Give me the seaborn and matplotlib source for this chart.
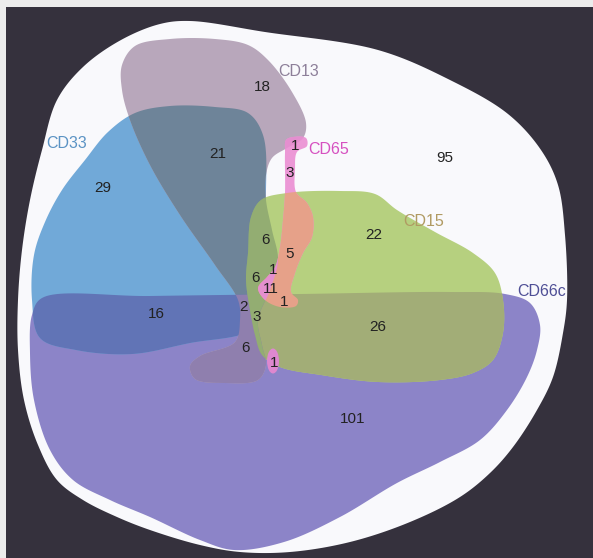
import numpy as np
import matplotlib
matplotlib.use("Agg")
import matplotlib.pyplot as plt
from matplotlib.patches import PathPatch, Rectangle, Ellipse
from matplotlib.path import Path
import seaborn as sns

# ---- data -------------------------------------------------------------
set_names = ["CD13", "CD33", "CD65", "CD15", "CD66c"]
region_counts = [18, 21, 29, 1, 3, 95, 6, 22, 5, 1, 6, 11, 1, 2, 3, 16, 26, 6, 1, 101]
region_members = ["CD13", "CD13&CD33", "CD33", "CD65&CD13", "CD65", "none",
                  "CD13&CD15", "CD15", "CD65&CD15", "CD13&CD65&CD15",
                  "CD13&CD33&CD15", "CD13&CD65&CD15", "CD65&CD15&CD66c",
                  "CD13&CD33&CD66c", "CD15&CD13&CD66c", "CD33&CD66c",
                  "CD15&CD66c", "CD13&CD66c", "CD65&CD66c", "CD66c"]

# ---- layout (pixel space, y downwards) ---------------------------------
label_xy = [(262, 87), (218, 154), (103, 188), (295, 146), (290, 173), (445, 158),
            (265, 240), (374, 235), (290, 254), (273, 270), (255, 278), (271, 289),
            (284, 302), (244, 307), (257, 317), (156, 314), (378, 327), (245, 348),
            (274, 363), (353, 419)]
set_label_xy = [(299, 72), (67, 144), (329, 149), (424, 221), (542, 291)]
set_label_colors = ["#8d7f99", "#5b93c4", "#d651c0", "#b09a62", "#4f4f96"]

outline = {
    "universe": [(190, 21), (265, 32), (378, 50), (450, 80), (508, 114), (541, 150),
                 (558, 185), (565, 235), (567, 300), (563, 333), (553, 377),
                 (537, 410), (513, 447), (490, 473), (460, 497), (410, 522),
                 (350, 542), (290, 552), (240, 552), (200, 545), (150, 530),
                 (117, 517), (83, 500), (57, 480), (38, 445), (24, 400), (18, 350),
                 (18, 300), (22, 250), (30, 200), (42, 150), (57, 100), (83, 67),
                 (121, 40), (160, 24)],
    "CD66c": [(42, 298), (150, 296), (300, 294), (450, 292), (505, 294), (530, 303),
              (540, 325), (537, 350), (527, 377), (507, 410), (480, 440), (440, 462),
              (397, 483), (340, 517), (284, 542), (234, 550), (200, 540), (150, 517),
              (110, 500), (73, 480), (50, 450), (34, 400), (30, 353), (32, 315)],
    "CD33": [(135, 113), (170, 106), (215, 107), (248, 113), (263, 135), (266, 190),
             (262, 240), (256, 290), (250, 322), (246, 332), (190, 343), (132, 354),
             (76, 350), (40, 338), (32, 300), (34, 255), (45, 222), (62, 190),
             (85, 160), (108, 132)],
    "CD13": [(122, 65), (135, 46), (170, 39), (215, 39), (248, 45), (268, 60),
             (292, 92), (306, 123), (303, 138), (287, 148), (272, 158), (266, 175),
             (266, 200), (272, 230), (278, 260), (270, 290), (258, 320), (262, 345),
             (266, 365), (258, 380), (225, 383), (195, 379), (190, 366), (200, 356),
             (235, 342), (240, 320), (238, 300), (215, 265), (180, 215), (150, 165),
             (130, 120), (122, 90)],
    "CD15": [(261, 200), (287, 193), (340, 191), (375, 194), (397, 210), (435, 232),
             (473, 253), (495, 273), (503, 300), (503, 333), (493, 360), (473, 373),
             (440, 380), (378, 382), (321, 375), (280, 367), (262, 355), (255, 335),
             (250, 310), (246, 280), (248, 253), (251, 217)],
    "CD65": [(286, 140), (293, 137), (306, 138), (307, 146), (297, 152), (295, 170),
             (296, 192), (307, 203), (313, 217), (312, 237), (303, 253), (295, 273),
             (291, 292), (298, 300), (296, 306), (280, 307), (265, 300), (258, 288),
             (267, 277), (275, 267), (280, 247), (283, 220), (285, 193), (285, 153)],
}
solo_color = {"universe": "#f9f9fc", "CD66c": "#8c84c8", "CD33": "#71a9d8",
              "CD13": "#b8a7bb", "CD15": "#b6d07f", "CD65": "#ec98d6"}
pair_color = [("CD13", "CD33", "#6e8499"), ("CD33", "CD66c", "#6174b6"),
              ("CD15", "CD66c", "#a2ad77"), ("CD13", "CD66c", "#8f7fae"),
              ("CD33", "CD15", "#7f9f8a"), ("CD13", "CD15", "#93ad72"),
              ("CD65", "CD15", "#e6a189"), ("CD65", "CD13", "#e48fcf")]


def smooth_closed(pts, n=24, alpha=0.5):
    """Centripetal Catmull-Rom spline through a closed ring of points."""
    P = np.asarray(pts, float)
    m = len(P)
    out = []
    for i in range(m):
        p0, p1, p2, p3 = P[(i - 1) % m], P[i], P[(i + 1) % m], P[(i + 2) % m]
        t0 = 0.0
        t1 = t0 + np.linalg.norm(p1 - p0) ** alpha
        t2 = t1 + np.linalg.norm(p2 - p1) ** alpha
        t3 = t2 + np.linalg.norm(p3 - p2) ** alpha
        t = np.linspace(t1, t2, n, endpoint=False)[:, None]
        a1 = (t1 - t) / (t1 - t0) * p0 + (t - t0) / (t1 - t0) * p1
        a2 = (t2 - t) / (t2 - t1) * p1 + (t - t1) / (t2 - t1) * p2
        a3 = (t3 - t) / (t3 - t2) * p2 + (t - t2) / (t3 - t2) * p3
        b1 = (t2 - t) / (t2 - t0) * a1 + (t - t0) / (t2 - t0) * a2
        b2 = (t3 - t) / (t3 - t1) * a2 + (t - t1) / (t3 - t1) * a3
        out.append((t2 - t) / (t2 - t1) * b1 + (t - t1) / (t2 - t1) * b2)
    return np.vstack(out)


def shape_path(name):
    verts = smooth_closed(outline[name])
    verts = np.vstack([verts, verts[:1]])
    codes = [Path.MOVETO] + [Path.LINETO] * (len(verts) - 2) + [Path.CLOSEPOLY]
    return Path(verts, codes)


sns.set_theme(style="white")
plt.rcParams["font.family"] = ["Liberation Sans", "DejaVu Sans"]

W, H = 593, 558
fig = plt.figure(figsize=(W / 100, H / 100), dpi=100, facecolor="#ececec")
ax = fig.add_axes([0, 0, 1, 1])
ax.set_xlim(0, W)
ax.set_ylim(H, 0)
ax.axis("off")

# dark frame behind the diagram
ax.add_patch(Rectangle((6, 7), W - 6, H - 7, facecolor="#35313d", edgecolor="none"))

patches = {}
for name in ["universe", "CD66c", "CD33", "CD13", "CD15", "CD65"]:
    p = PathPatch(shape_path(name), facecolor=solo_color[name], edgecolor="none", lw=0)
    ax.add_patch(p)
    patches[name] = p

# overlaps: fill one set clipped by the other
for a, b, col in pair_color:
    p = PathPatch(shape_path(a), facecolor=col, edgecolor="none", lw=0)
    ax.add_patch(p)
    p.set_clip_path(patches[b])

# detached CD65 piece inside CD66c
ax.add_patch(Ellipse((273, 361), 12, 25, facecolor="#de88cf", edgecolor="none"))

for cnt, (x, y) in zip(region_counts, label_xy):
    ax.text(x, y, str(cnt), ha="center", va="center", fontsize=11, color="#222222")

for name, (x, y), col in zip(set_names, set_label_xy, set_label_colors):
    ax.text(x, y, name, ha="center", va="center", fontsize=11.5, color=col)

fig.savefig("out.png", dpi=100, facecolor=fig.get_facecolor())
